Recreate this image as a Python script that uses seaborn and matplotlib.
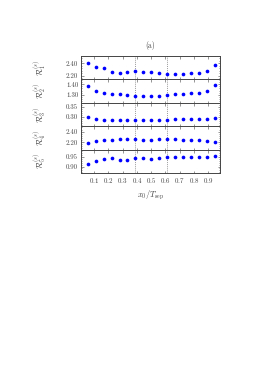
import matplotlib
matplotlib.use("Agg")
import matplotlib.pyplot as plt
import numpy as np
import pandas as pd
import seaborn as sns
from matplotlib.ticker import AutoMinorLocator, FormatStrFormatter

T_SEP = 18
X0 = [t / T_SEP for t in range(1, T_SEP)]

R1 = [2.400, 2.337, 2.321, 2.258, 2.243, 2.252, 2.274, 2.258, 2.264,
      2.237, 2.222, 2.222, 2.232, 2.237, 2.248, 2.279, 2.368]
R2 = [1.382, 1.338, 1.316, 1.313, 1.307, 1.301, 1.294, 1.291, 1.288,
      1.294, 1.297, 1.307, 1.313, 1.316, 1.319, 1.338, 1.391]
R3 = [0.300, 0.290, 0.283, 0.285, 0.285, 0.285, 0.283, 0.283, 0.2815,
      0.283, 0.285, 0.288, 0.288, 0.2865, 0.2865, 0.290, 0.2965]
R4 = [2.175, 2.220, 2.239, 2.246, 2.252, 2.259, 2.252, 2.246, 2.239,
      2.252, 2.259, 2.252, 2.246, 2.239, 2.233, 2.214, 2.207]
R5 = [0.912, 0.928, 0.937, 0.943, 0.932, 0.9355, 0.9445, 0.943, 0.939,
      0.9445, 0.9516, 0.950, 0.948, 0.9516, 0.9516, 0.950, 0.953]

SERIES = [R1, R2, R3, R4, R5]
LABELS = [r"$\mathcal{R}_{%d}^{(s)}$" % i for i in range(1, 6)]
YLIMS = [(2.137, 2.518), (1.228, 1.444), (0.252, 0.372), (2.058, 2.503), (0.866, 0.989)]
YTICKS = [[2.20, 2.40], [1.30, 1.40], [0.30, 0.35], [2.20, 2.40], [0.90, 0.95]]
XTICKS = [0.1, 0.2, 0.3, 0.4, 0.5, 0.6, 0.7, 0.8, 0.9]
VLINES = [7 / T_SEP, 11 / T_SEP]

sns.set_style("ticks")
plt.rcParams["font.family"] = ["cmr10", "DejaVu Serif"]
plt.rcParams["mathtext.fontset"] = "cm"
plt.rcParams["axes.formatter.use_mathtext"] = True

fig = plt.figure(figsize=(2.74, 3.88), dpi=100)
left, right = 81 / 274, 220 / 274
top, bottom = 1 - 56 / 388, 1 - 173 / 388
h = (top - bottom) / 5

axes = []
for i, (vals, lab, ylim, yt) in enumerate(zip(SERIES, LABELS, YLIMS, YTICKS)):
    ax = fig.add_axes([left, top - (i + 1) * h, right - left, h])
    df = pd.DataFrame({"x": X0, "y": vals})
    sns.scatterplot(data=df, x="x", y="y", ax=ax, color="#0000ff", s=7,
                    linewidth=0, zorder=3)
    for v in VLINES:
        ax.axvline(v, color="#777777", lw=0.5, ls=(0, (1.5, 1.5)), zorder=1)
    ax.set_xlim(0.008, 0.982)
    ax.set_ylim(*ylim)
    ax.set_yticks(yt)
    ax.yaxis.set_major_formatter(FormatStrFormatter("%.2f"))
    ax.yaxis.set_minor_locator(AutoMinorLocator(5))
    ax.set_xticks(XTICKS)
    ax.tick_params(axis="both", which="both", direction="in", top=True,
                   right=True, labelsize=5, length=1.8, width=0.4,
                   colors="#444444", labelcolor="#444444", pad=2)
    ax.tick_params(which="minor", length=1.0)
    ax.set_ylabel(lab, fontsize=6, color="#444444")
    ax.yaxis.set_label_coords(-0.24, 0.5)
    ax.set_xlabel("")
    for sp in ax.spines.values():
        sp.set_linewidth(0.7)
        sp.set_color("#444444")
    if i < 4:
        ax.tick_params(labelbottom=False)
    axes.append(ax)

axes[-1].set_xlabel(r"$x_0/T_{\rm sep}$", fontsize=6, color="#444444", labelpad=3)
fig.text((left + right) / 2, 1 - 46 / 388, "(a)", ha="center", va="center",
         fontsize=5.5, color="#444444")

fig.savefig("out.png", dpi=100)
